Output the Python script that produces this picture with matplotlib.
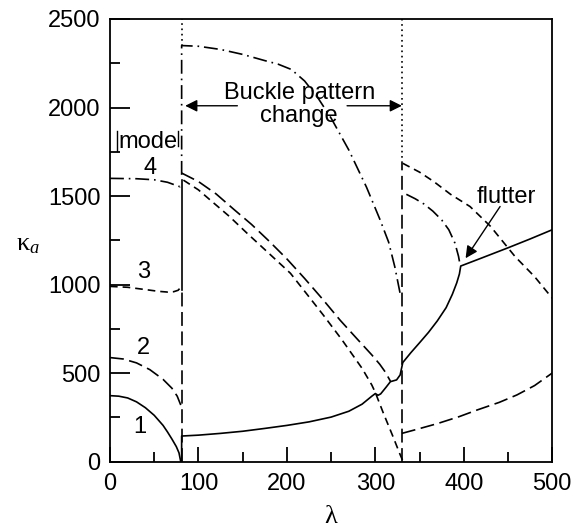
import matplotlib
matplotlib.use("Agg")
import matplotlib.pyplot as plt
from matplotlib.ticker import MultipleLocator

plt.rcParams["font.family"] = ["Liberation Sans", "DejaVu Sans"]
plt.rcParams["lines.scale_dashes"] = False
plt.rcParams["mathtext.fontset"] = "custom"
plt.rcParams["mathtext.rm"] = "Liberation Serif"
plt.rcParams["mathtext.it"] = "Liberation Serif:italic"

# lambda where the buckle pattern changes
lam_change = [81, 330]

# --- before first buckle pattern change ---
m1_lam = [0, 10, 20, 30, 40, 50, 60, 65, 70, 75, 78, 80]
m1_kap = [373, 370, 360, 338, 305, 262, 205, 168, 128, 85, 50, 0]

m2_lam = [0, 15, 30, 45, 60, 70, 76, 80]
m2_kap = [588, 580, 558, 520, 465, 415, 370, 320]

m3_lam = [0, 20, 40, 55, 65, 72, 77, 80]
m3_kap = [990, 985, 972, 962, 958, 960, 968, 985]

m4_lam = [0, 30, 50, 65, 75, 79, 81]
m4_kap = [1600, 1598, 1592, 1578, 1560, 1553, 1575]

# --- after first change ---
# solid branch, runs through the veering region up to flutter and beyond
sol_lam = [81, 81, 100, 125, 150, 175, 200, 225, 250, 270, 285, 296, 300, 303, 306,
           312, 317, 324, 328, 331, 340, 350, 360, 370, 380, 387, 392, 395, 396.5,
           420, 450, 475, 500]
sol_kap = [0, 145, 150, 160, 172, 188, 205, 225, 252, 285, 325, 370, 385, 375, 383,
           420, 452, 462, 490, 560, 615, 672, 730, 795, 870, 945, 1010, 1060, 1105,
           1150, 1208, 1258, 1310]

long_lam = [81, 100, 120, 140, 160, 180, 200, 220, 240, 260, 280, 296, 305, 311, 317]
long_kap = [1630, 1582, 1512, 1425, 1340, 1245, 1145, 1035, 920, 800, 690, 603, 550, 508, 455]

short_lam = [83, 100, 113, 135, 155, 180, 204, 222, 241, 262, 285, 296, 300, 309, 320, 328, 331]
short_kap = [1590, 1535, 1479, 1385, 1290, 1175, 1064, 950, 829, 690, 527, 433, 390, 275, 141, 40, 5]

dd_lam = [81, 81, 100, 125, 150, 175, 190, 205, 220, 235, 250, 270, 290, 305, 315, 322, 328]
dd_kap = [1620, 2350, 2346, 2328, 2300, 2265, 2245, 2215, 2150, 2055, 1940, 1760, 1550,
          1370, 1240, 1100, 950]

# --- after second change ---
dd2_lam = [335, 345, 355, 365, 375, 383, 390, 394, 396]
dd2_kap = [1510, 1485, 1455, 1415, 1365, 1310, 1234, 1160, 1105]

short2_lam = [331, 350, 366, 385, 407, 430, 458, 480, 500]
short2_kap = [1685, 1635, 1582, 1510, 1441, 1330, 1158, 1045, 923]

long2_lam = [330, 347, 370, 395, 415, 440, 460, 480, 500]
long2_kap = [160, 183, 215, 255, 292, 335, 377, 430, 501]

# vertical jumps at the change points (kappa ranges)
dot_a = [2350, 2500]
dot_b = [1687, 2500]
solid_a = [970, 1590]
long_a = [0, 970]
long_b = [0, 1687]

ls_solid = "-"
ls_long = (0, (10, 4))
ls_short = (0, (5.5, 3.6))
ls_dd = (0, (10, 3.5, 1.2, 3.5))
ls_dot = (0, (1.2, 2.6))

fig = plt.figure(figsize=(5.78, 5.29), dpi=100)
ax = fig.add_axes([0.1903, 0.1272, 0.7652, 0.8369])

lw = 1.2
curves = [
    (m1_lam, m1_kap, ls_solid), (m2_lam, m2_kap, ls_long),
    (m3_lam, m3_kap, ls_short), (m4_lam, m4_kap, ls_dd),
    (sol_lam, sol_kap, ls_solid), (long_lam, long_kap, ls_long),
    (short_lam, short_kap, ls_short), (dd_lam, dd_kap, ls_dd),
    (dd2_lam, dd2_kap, ls_dd), (short2_lam, short2_kap, ls_short),
    (long2_lam, long2_kap, ls_long),
]
for lam, kap, ls in curves:
    ax.plot(lam, kap, color="k", lw=lw, linestyle=ls)

ax.plot([lam_change[0]] * 2, dot_a, color="k", lw=lw, linestyle=ls_dot)
ax.plot([lam_change[1]] * 2, dot_b, color="k", lw=lw, linestyle=ls_dot)
ax.plot([lam_change[0]] * 2, solid_a, color="k", lw=lw, linestyle=ls_solid)
ax.plot([lam_change[0]] * 2, long_a, color="k", lw=lw, linestyle=ls_long)
ax.plot([lam_change[1]] * 2, long_b, color="k", lw=lw, linestyle=ls_long)

fs = 17
# mode labels
ax.text(43, 1808, "mode", fontsize=fs, ha="center", va="center")
ax.plot([8, 8], [1753, 1866], color="k", lw=1.0)
ax.plot([76.5, 76.5], [1780, 1866], color="k", lw=1.0)
for lab, xl, yl in [("4", 45, 1657), ("3", 38, 1073), ("2", 38, 640), ("1", 34, 198)]:
    ax.text(xl, yl, lab, fontsize=fs, ha="center", va="center")

# buckle pattern change annotation
ax.text(214, 2015, "Buckle pattern\nchange", fontsize=fs, ha="center", va="center",
        linespacing=1.05)
arw = dict(arrowstyle="-|>", color="k", lw=1.0, mutation_scale=18,
           shrinkA=0, shrinkB=0)
ax.annotate("", xy=(85, 2010), xytext=(144, 2010), arrowprops=arw)
ax.annotate("", xy=(330, 2010), xytext=(268, 2010), arrowprops=arw)

# flutter
ax.text(448, 1497, "flutter", fontsize=fs, ha="center", va="center")
ax.annotate("", xy=(402, 1149), xytext=(441, 1441), arrowprops=arw)

ax.set_xlim(0, 500)
ax.set_ylim(0, 2500)
ax.xaxis.set_major_locator(MultipleLocator(100))
ax.xaxis.set_minor_locator(MultipleLocator(50))
ax.yaxis.set_major_locator(MultipleLocator(500))
ax.yaxis.set_minor_locator(MultipleLocator(250))
ax.tick_params(axis="both", which="both", direction="in", top=False, right=False,
               labelsize=fs, width=1.3)
ax.tick_params(axis="y", which="major", length=14.4, pad=7)
ax.tick_params(axis="y", which="minor", length=7.2)
ax.tick_params(axis="x", which="major", length=10.8, pad=8)
ax.tick_params(axis="x", which="minor", length=7.2)
for sp in ax.spines.values():
    sp.set_linewidth(1.3)

ax.set_xlabel("λ", fontsize=19, family="Liberation Serif", va="center")
ax.xaxis.set_label_coords(0.5, -0.125)
ax.set_ylabel(r"κ$_{a}$", fontsize=19, rotation=0, ha="center", va="center",
              family="Liberation Serif")
ax.yaxis.set_label_coords(-0.186, 0.49)

fig.savefig("out.png", dpi=100)
